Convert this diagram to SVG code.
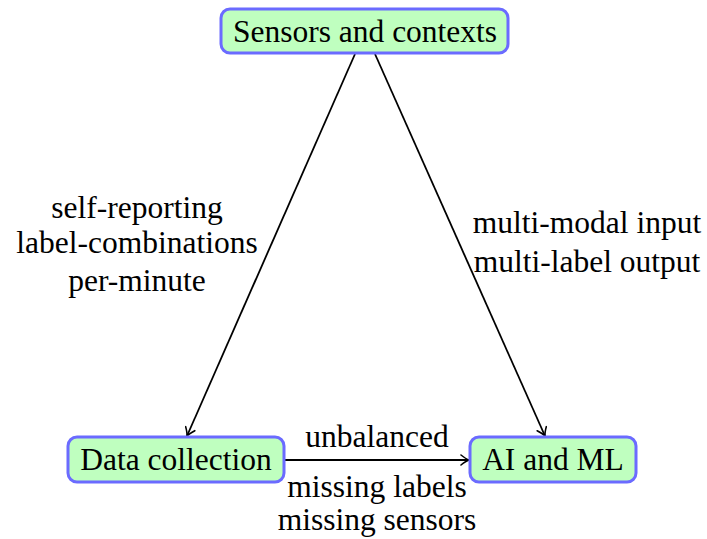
<svg xmlns="http://www.w3.org/2000/svg" width="707" height="539" viewBox="0 0 707 539">
<style>
.box{fill:#bfffbf;stroke:#6b6bff;stroke-width:3}
.e{stroke:#000;stroke-width:1.8;fill:none}
</style>
<defs>
<marker id="ar" viewBox="-10 -6 12 12" refX="0" refY="0" markerWidth="12" markerHeight="12" markerUnits="userSpaceOnUse" orient="auto">
<path d="M-8,-5 Q-3,-1 0,0 Q-3,1 -8,5" fill="none" stroke="#000" stroke-width="1.6" stroke-linecap="round"/>
</marker>
</defs>
<g id="edges">
<line class="e" x1="355" y1="54" x2="187" y2="436" marker-end="url(#ar)"/>
<line class="e" x1="375" y1="54" x2="545" y2="436" marker-end="url(#ar)"/>
<line class="e" x1="285" y1="460" x2="469" y2="460" marker-end="url(#ar)"/>
</g>
<g font-family="Liberation Serif, DejaVu Serif, serif" font-size="31.5" fill="#000" text-anchor="middle">
<g id="edge-labels">
<text x="137" y="218">self-reporting</text>
<text x="137" y="253">label-combinations</text>
<text x="137" y="291">per-minute</text>
<text x="587" y="233">multi-modal input</text>
<text x="587" y="272">multi-label output</text>
<text x="377" y="447">unbalanced</text>
<text x="377" y="497">missing labels</text>
<text x="377" y="530">missing sensors</text>
</g>
<g id="sensors">
<rect class="box" x="221" y="9" width="287" height="44" rx="9"/>
<text x="365" y="42">Sensors and contexts</text>
</g>
<g id="data">
<rect class="box" x="68" y="437" width="216" height="45" rx="9"/>
<text x="176" y="470">Data collection</text>
</g>
<g id="ai">
<rect class="box" x="470" y="437" width="166" height="45" rx="9"/>
<text x="553" y="470">AI and ML</text>
</g>
</g>
</svg>
